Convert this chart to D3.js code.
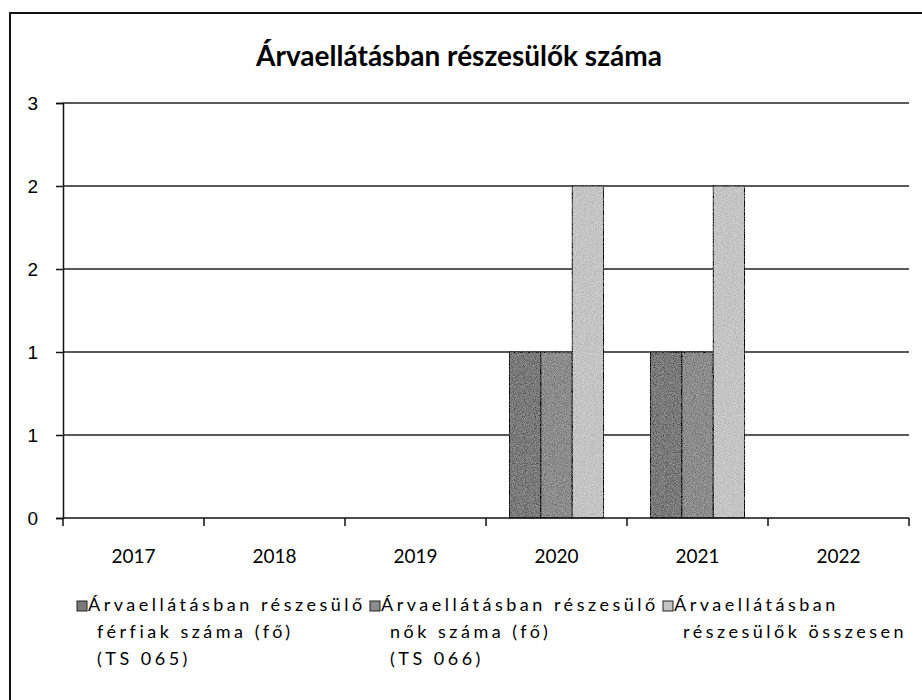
<!DOCTYPE html>
<html>
<head>
<meta charset="utf-8">
<script src="https://cdn.jsdelivr.net/npm/d3@7"></script>
<style>
  body { margin: 0; background: #fff; }
  svg { display: block; font-family: Lato, "Open Sans", sans-serif; }
</style>
</head>
<body>
<div id="chart"></div>
<script>
// data
var years = ["2017", "2018", "2019", "2020", "2021", "2022"];
var male = [0, 0, 0, 1, 1, 0];     // TS 065
var female = [0, 0, 0, 1, 1, 0];   // TS 066
var total = [0, 0, 0, 2, 2, 0];
var yTicks = [0, 0.5, 1, 1.5, 2, 2.5];
var seriesNames = [
    ["Árvaellátásban részesülő", "férfiak száma (fő)", "(TS 065)"],
    ["Árvaellátásban részesülő", "nők száma (fő)", "(TS 066)"],
    ["Árvaellátásban", "részesülők összesen"]
];
var title = "Árvaellátásban részesülők száma";

var width = 922, height = 700;
var colors = ["#7a7a7a", "#8c8c8c", "#c4c4c4"];
var series = [male, female, total];

var svg = d3.select("#chart").append("svg")
    .attr("width", width)
    .attr("height", height);

var defs = svg.append("defs");

// scanned look: a bit of grain inside the bars
var grain = defs.append("filter").attr("id", "grain");
grain.append("feTurbulence")
    .attr("type", "fractalNoise")
    .attr("baseFrequency", 1.1)
    .attr("numOctaves", 1)
    .attr("seed", 4)
    .attr("result", "noise");
grain.append("feColorMatrix")
    .attr("in", "noise")
    .attr("type", "matrix")
    .attr("values", "1 0 0 0 0  1 0 0 0 0  1 0 0 0 0  0 0 0 0 1")
    .attr("result", "gray");
grain.append("feComposite")
    .attr("in", "SourceGraphic")
    .attr("in2", "gray")
    .attr("operator", "arithmetic")
    .attr("k1", 0).attr("k2", 1).attr("k3", 0.5).attr("k4", -0.25)
    .attr("result", "mixed");
grain.append("feComposite")
    .attr("in", "mixed")
    .attr("in2", "SourceGraphic")
    .attr("operator", "in");

// legend entries get cut off at the next entry, like in the original
var legendStep = 293;
defs.append("clipPath").attr("id", "legclip")
    .append("rect")
    .attr("x", -5).attr("y", 580)
    .attr("width", legendStep - 3).attr("height", 110);

// outer frame (only top and left edges show)
svg.append("path")
    .attr("d", "M10,700 L10,13 L922,13")
    .attr("fill", "none")
    .attr("stroke", "#111")
    .attr("stroke-width", 2);

svg.append("text")
    .attr("x", 459)
    .attr("y", 66)
    .attr("text-anchor", "middle")
    .style("font-weight", "bold")
    .style("font-size", "28px")
    .text(title);

var plotLeft = 63, plotRight = 909, plotTop = 103, plotBottom = 518;

var x = d3.scaleBand().domain(years).range([plotLeft, plotRight]);
var xSub = d3.scaleBand().domain([0, 1, 2])
    .range([0, x.bandwidth()])
    .paddingInner(0)
    .paddingOuter(0.75);
var y = d3.scaleLinear().domain([0, 2.5]).range([plotBottom, plotTop]);

// gridlines
svg.append("g").selectAll("line")
    .data(yTicks.slice(1))
    .join("line")
    .attr("x1", plotLeft)
    .attr("x2", plotRight)
    .attr("y1", function(d) { return y(d); })
    .attr("y2", function(d) { return y(d); })
    .attr("stroke", "#222")
    .attr("stroke-width", 1.5);

// bars
series.forEach(function(vals, i) {
    svg.append("g")
        .attr("filter", "url(#grain)")
        .selectAll("rect")
        .data(vals.filter(function(d) { return d > 0; }).length ? vals : [])
        .join("rect")
        .attr("x", function(d, j) { return x(years[j]) + xSub(i); })
        .attr("y", function(d) { return y(d); })
        .attr("width", xSub.bandwidth())
        .attr("height", function(d) { return plotBottom - y(d); })
        .attr("fill", colors[i])
        .attr("stroke", "#222")
        .attr("stroke-width", function(d) { return d > 0 ? 1 : 0; });
});

// y axis
var yAxis = d3.axisLeft(y)
    .tickValues(yTicks)
    .tickSize(7)
    .tickPadding(18)
    .tickFormat(function(d) { return Math.round(d); });
var gy = svg.append("g")
    .attr("transform", "translate(" + plotLeft + ",0)")
    .call(yAxis);
gy.select(".domain").attr("stroke", "#111").attr("stroke-width", 1.5);
gy.selectAll(".tick line").attr("stroke", "#111").attr("stroke-width", 1.5);
gy.selectAll("text").style("font-size", "19px").attr("fill", "#000");

// x axis: ticks at the category boundaries
var boundaries = years.map(function(d) { return x(d); }).concat([plotRight]);
svg.append("line")
    .attr("x1", plotLeft).attr("x2", plotRight)
    .attr("y1", plotBottom).attr("y2", plotBottom)
    .attr("stroke", "#111").attr("stroke-width", 1.5);
svg.append("g").selectAll("line")
    .data(boundaries)
    .join("line")
    .attr("x1", function(d) { return d; })
    .attr("x2", function(d) { return d; })
    .attr("y1", plotBottom)
    .attr("y2", plotBottom + 8)
    .attr("stroke", "#111")
    .attr("stroke-width", 1.5);
svg.append("g").selectAll("text")
    .data(years)
    .join("text")
    .attr("x", function(d) { return x(d) + x.bandwidth() / 2; })
    .attr("y", 563)
    .attr("text-anchor", "middle")
    .style("font-size", "19px")
    .text(function(d) { return d; });

// legend
var legend = svg.append("g").selectAll("g")
    .data(seriesNames)
    .join("g")
    .attr("transform", function(d, i) { return "translate(" + (77 + i * legendStep) + ",0)"; })
    .attr("clip-path", "url(#legclip)");
legend.append("rect")
    .attr("x", 0).attr("y", 601)
    .attr("width", 10).attr("height", 10)
    .attr("fill", function(d, i) { return colors[i]; })
    .attr("stroke", "#222")
    .attr("stroke-width", 1);
legend.selectAll("text")
    .data(function(d) { return d; })
    .join("text")
    .attr("x", function(d, k) { return k === 0 ? 11 : 20; })
    .attr("y", function(d, k) { return 611 + k * 27; })
    .style("font-size", "18px")
    .style("letter-spacing", "3.5px")
    .text(function(d) { return d; });
</script>
</body>
</html>
